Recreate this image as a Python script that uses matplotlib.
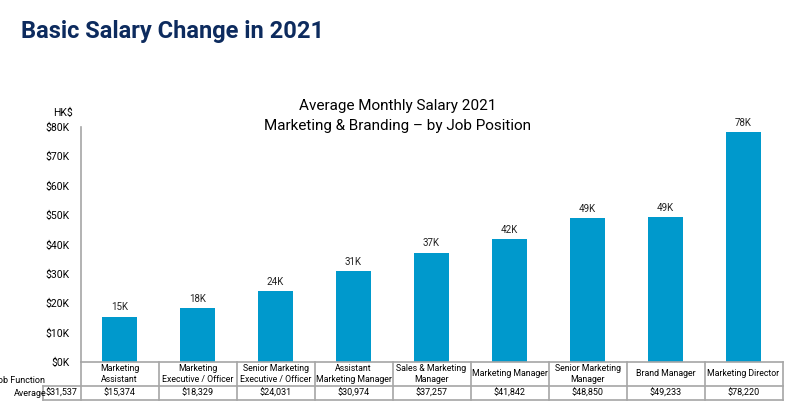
import numpy as np
import matplotlib
matplotlib.use('Agg')
import matplotlib.pyplot as plt
import matplotlib.transforms as mtransforms

# data
positions = ["Marketing\nAssistant", "Marketing\nExecutive / Officer",
             "Senior Marketing\nExecutive / Officer", "Assistant\nMarketing Manager",
             "Sales & Marketing\nManager", "Marketing Manager",
             "Senior Marketing\nManager", "Brand Manager", "Marketing Director"]
salaries = [15374, 18329, 24031, 30974, 37257, 41842, 48850, 49233, 78220]
function_avg = 31537
yticks = [0, 10000, 20000, 30000, 40000, 50000, 60000, 70000, 80000]

plt.rcParams['font.family'] = ['Roboto', 'DejaVu Sans']
bar_color = '#0099cc'
line_color = '#a6a6a6'

fig = plt.figure(figsize=(7.95, 4.15), dpi=100)
ax = fig.add_axes([0.1013, 0.1277, 0.883, 0.5663])

x = np.arange(len(salaries))
bars = ax.bar(x, salaries, width=0.45, color=bar_color)
for xi, v in zip(x, salaries):
    ax.text(xi, v + 1500, f"{round(v / 1000)}K", ha='center', va='bottom', fontsize=7, color='#222222')

ax.set_xlim(-0.5, len(salaries) - 0.5)
ax.set_ylim(0, 80000)
ax.set_yticks(yticks)
ax.set_yticklabels([f"${t // 1000}K" for t in yticks], fontsize=7.5)
ax.tick_params(axis='y', length=0, pad=8)
ax.set_xticks([])
for s in ['top', 'right']:
    ax.spines[s].set_visible(False)
for s in ['left', 'bottom']:
    ax.spines[s].set_color(line_color)
    ax.spines[s].set_linewidth(1.2)

ax.text(-0.011, 1.06, "HK$", transform=ax.transAxes, ha='right', va='center', fontsize=7.5)

# table under the axis
tr = mtransforms.blended_transform_factory(ax.transData, ax.transAxes)
r1, r2 = -0.102, -0.162
lw = 1.2
for b in np.arange(len(salaries) + 1) - 0.5:
    ax.plot([b, b], [0, r2], transform=tr, color=line_color, lw=lw, clip_on=False)
ax.plot([-0.98, len(salaries) - 0.5], [r1, r1], transform=tr, color=line_color, lw=lw, clip_on=False)
ax.plot([-0.98, len(salaries) - 0.5], [r2, r2], transform=tr, color=line_color, lw=lw, clip_on=False)
ax.plot([-0.98, -0.98], [r1, r2], transform=tr, color=line_color, lw=lw, clip_on=False)

for xi, name, v in zip(x, positions, salaries):
    ax.text(xi, (0 + r1) / 2, name, transform=tr, ha='center', va='center',
            fontsize=6.3, linespacing=1.15)
    ax.text(xi, (r1 + r2) / 2, f"${v:,}", transform=tr, ha='center', va='center', fontsize=6.5)

ax.text(-0.74, (r1 + r2) / 2, f"${function_avg:,}", transform=tr, ha='center', va='center', fontsize=6.5)
ax.text(-0.96, r1 + 0.005, "Job Function", transform=tr, ha='right', va='bottom', fontsize=6.5)
ax.text(-0.94, (r1 + r2) / 2, "Average", transform=tr, ha='right', va='center', fontsize=6.5)

ax.text(0.452, 1.047, "Average Monthly Salary 2021\nMarketing & Branding \u2013 by Job Position",
        transform=ax.transAxes, ha='center', va='center', fontsize=11, linespacing=1.5)

fig.text(0.027, 0.925, "Basic Salary Change in 2021", fontsize=17, fontweight='bold',
         color='#0d2b5e', ha='left', va='center')

fig.savefig('out.png', dpi=100)
